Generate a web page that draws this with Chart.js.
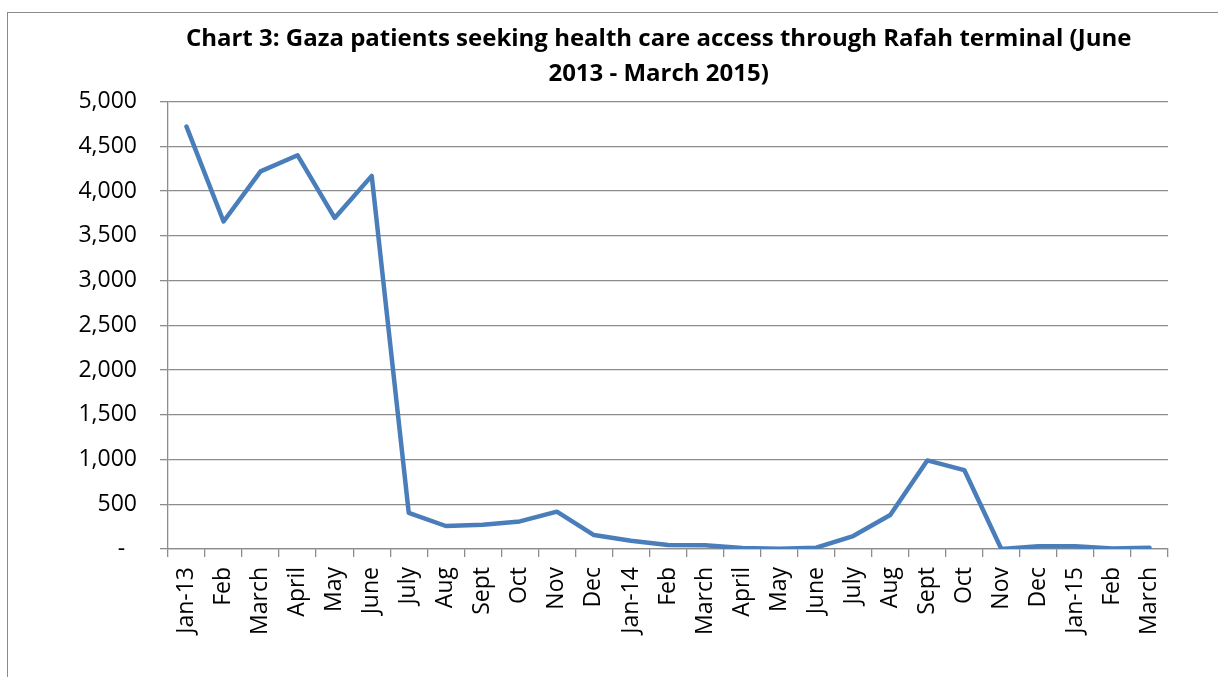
<!DOCTYPE html>
<html>
<head>
<meta charset="utf-8">
<script src="https://cdn.jsdelivr.net/npm/chart.js@4.4.1/dist/chart.umd.min.js"></script>
<style>
  html, body { margin: 0; padding: 0; background: #fff; overflow: hidden; }
  #frame { position: absolute; left: 7px; top: 12px; width: 1300px; height: 800px; border: 1px solid #8a8a8a; }
  #chart { position: absolute; left: 0; top: 0; }
</style>
</head>
<body>
<div id="frame"></div>
<canvas id="chart" width="1218" height="677"></canvas>
<script>
// months, Jan 2013 - March 2015
const months = ['Jan-13','Feb','March','April','May','June','July','Aug','Sept','Oct','Nov','Dec',
  'Jan-14','Feb','March','April','May','June','July','Aug','Sept','Oct','Nov','Dec',
  'Jan-15','Feb','March'];
const patients = [4720,3660,4220,4400,3700,4170,405,257,272,308,417,156,
  93,45,41,11,4,15,145,380,990,882,0,30,
  30,5,15];
// trailing spaces nudge the centred title a little left, like the original
const titleLines = ['Chart 3: Gaza patients seeking health care access through Rafah terminal (June   ', '2013 - March 2015)   '];

const gridGray = '#8c8c8c';
const font = 'Open Sans';

new Chart(document.getElementById('chart'), {
  type: 'line',
  data: {
    labels: months,
    datasets: [{
      data: patients,
      borderColor: '#4a7ebb',
      borderWidth: 4.5,
      pointRadius: 0,
      tension: 0,
      borderJoinStyle: 'round',
      borderCapStyle: 'round'
    }]
  },
  options: {
    responsive: false,
    animation: false,
    layout: { padding: { left: 0, right: 50, top: 12, bottom: 0 } },
    plugins: {
      legend: { display: false },
      tooltip: { enabled: false },
      title: {
        display: true,
        text: titleLines,
        fullSize: false,
        color: '#000',
        font: { family: font, size: 24, weight: 'bold', lineHeight: 1.45 },
        padding: { top: 10, bottom: 10 }
      }
    },
    scales: {
      x: {
        offset: true,
        grid: { offset: true, drawOnChartArea: false, tickLength: 8, color: gridGray, lineWidth: 1.3 },
        border: { color: gridGray, width: 1.3 },
        ticks: { color: '#000', autoSkip: false, maxRotation: 90, minRotation: 90, padding: 10,
          font: { family: font, size: 23 } },
        afterFit: s => { s.height = 128; }
      },
      y: {
        min: 0, max: 5000,
        grid: { color: gridGray, lineWidth: 1.3, tickLength: 8 },
        border: { color: gridGray, width: 1.3 },
        ticks: {
          stepSize: 500, color: '#000', padding: 23,
          font: { family: font, size: 23 },
          callback: v => v === 0 ? '-  ' : v.toLocaleString('en-US')
        },
        afterFit: s => { s.width = 168; }
      }
    }
  }
});
</script>
</body>
</html>
